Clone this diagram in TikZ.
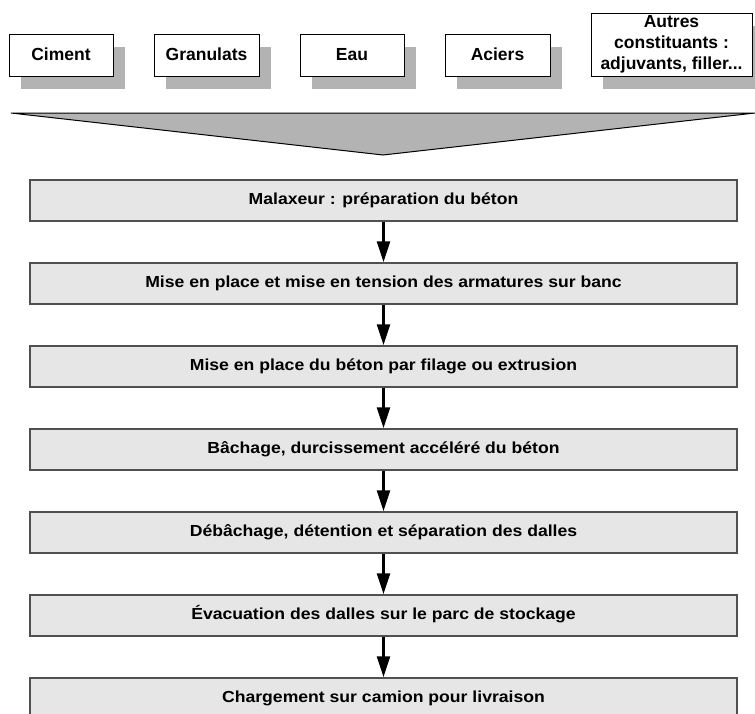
\documentclass[tikz,border=0pt]{standalone}
\usepackage{fontspec}
\setmainfont{Liberation Sans}
\newfontfamily\flowfont[FakeStretch=1.1]{Liberation Sans}
\usetikzlibrary{arrows.meta,shadows}
\definecolor{shadowgray}{RGB}{179,179,179}
\definecolor{flowfill}{RGB}{230,230,230}
\definecolor{flowedge}{RGB}{80,80,80}
\begin{document}
\begin{tikzpicture}[x=1pt,y=-1pt,
  inbox/.style={draw=black, line width=1pt, fill=white, inner sep=0pt,
    font=\fontsize{17.5}{21}\selectfont\bfseries, align=center,
    general shadow={fill=shadowgray, shadow xshift=12pt, shadow yshift=-12.5pt}},
  oneline/.style={text height=14pt, text depth=3.5pt},
  flowbox/.style={draw=flowedge, line width=1.5pt, fill=flowfill, inner sep=0pt,
    minimum width=707pt, minimum height=41pt, text height=11.5pt, text depth=3.5pt,
    font=\flowfont\fontsize{16}{18}\selectfont\bfseries},
  flowarrow/.style={line width=2.6pt, -{Triangle[length=21pt,width=13pt]}, shorten >=0pt}
]
\clip (0,0) rectangle (755,713);
\fill[white] (0,0) rectangle (755,713);

% input boxes
\node[inbox, oneline, minimum width=104pt, minimum height=42pt] (ciment) at (61,55) {Ciment};
\node[inbox, oneline, minimum width=105pt, minimum height=42pt] (granulats) at (206.5,55) {Granulats};
\node[inbox, oneline, minimum width=104pt, minimum height=42pt] (eau) at (352,55) {Eau};
\node[inbox, oneline, minimum width=105pt, minimum height=42pt] (aciers) at (497.5,55) {Aciers};
\node[inbox, minimum width=161pt, minimum height=63pt] (autres) at (671.5,44.5) {Autres\\constituants :\\adjuvants, filler...};

% funnel
\coordinate (fl) at (11,113);
\coordinate (fr) at (755,113);
\coordinate (fa) at (383,155);
\draw[fill=shadowgray, line width=1pt, line join=miter] (fl) -- (fr) -- (fa) -- cycle;

% flow
\node[flowbox] (s1) at (383.5,200.5) {Malaxeur : préparation du béton};
\node[flowbox] (s2) at (383.5,283.5) {Mise en place et mise en tension des armatures sur banc};
\node[flowbox] (s3) at (383.5,366.5) {Mise en place du béton par filage ou extrusion};
\node[flowbox] (s4) at (383.5,449.5) {Bâchage, durcissement accéléré du béton};
\node[flowbox] (s5) at (383.5,532.5) {Débâchage, détention et séparation des dalles};
\node[flowbox] (s6) at (383.5,615.5) {Évacuation des dalles sur le parc de stockage};
\node[flowbox] (s7) at (383.5,698.5) {Chargement sur camion pour livraison};

\foreach \a/\b in {s1/s2,s2/s3,s3/s4,s4/s5,s5/s6,s6/s7}{
  \draw[flowarrow] (\a.south) -- (\b.north);
}
\end{tikzpicture}
\end{document}
